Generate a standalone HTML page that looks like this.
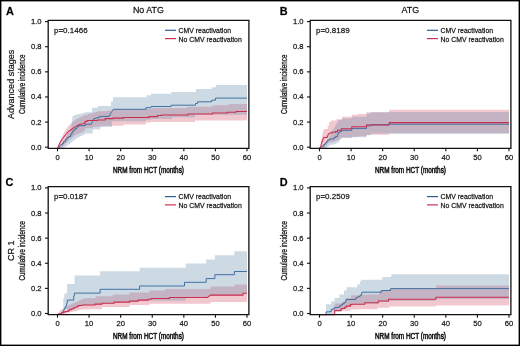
<!DOCTYPE html>
<html><head><meta charset="utf-8"><style>
html,body{margin:0;padding:0;background:#fff;}
body{width:520px;height:346px;overflow:hidden;}
svg{display:block;font-family:"Liberation Sans", sans-serif;will-change:transform;}
text{stroke:#000;stroke-width:0.3px;stroke-opacity:0.65;}
</style></head><body>
<svg width="520" height="346" viewBox="0 0 520 346">
<rect x="0" y="0" width="520" height="346" fill="#fff"/>
<path d="M57.60,148.00 L58.50,145.40 L61.10,139.10 L63.60,133.40 L66.20,128.90 L68.70,125.70 L71.90,122.50 L75.10,120.00 L78.90,118.10 L84.00,115.40 L90.90,113.50 L99.00,111.20 L107.00,111.20 L107.00,110.40 L112.00,110.40 L112.00,109.60 L145.90,109.60 L145.90,108.90 L152.00,108.90 L152.00,108.00 L187.00,108.00 L187.00,106.70 L212.50,106.70 L212.50,105.30 L228.40,105.30 L228.40,103.90 L247.00,103.90 L247.00,120.50 L195.00,120.50 L195.00,121.90 L151.00,121.90 L151.00,122.60 L145.90,122.60 L145.90,124.60 L123.50,124.60 L123.50,125.80 L100.40,125.80 L100.40,126.80 L92.70,126.80 L92.70,128.20 L85.00,128.20 L85.00,130.50 L81.40,132.70 L76.40,134.60 L72.50,137.20 L68.70,140.40 L64.90,144.20 L61.10,148.00 L57.60,148.00 Z" fill="rgb(212,72,98)" fill-opacity="0.3"/>
<path d="M58.50,148.00 L61.00,145.50 L63.60,140.40 L66.20,136.50 L68.70,132.70 L70.60,129.50 L71.60,126.00 L72.00,121.00 L72.50,116.80 L73.80,115.50 L77.60,114.30 L84.00,113.00 L84.50,113.00 L84.50,112.30 L92.10,112.30 L92.10,107.70 L97.90,107.70 L97.90,106.00 L111.00,106.00 L111.00,101.40 L113.00,101.40 L113.00,97.20 L146.60,97.20 L146.60,95.20 L151.00,95.20 L151.00,93.70 L171.20,93.70 L171.20,92.10 L196.00,92.10 L196.00,88.90 L211.70,88.90 L211.70,87.20 L216.00,87.20 L216.00,85.10 L247.00,85.10 L247.00,114.80 L195.00,114.80 L195.00,117.20 L172.00,117.20 L172.00,119.00 L151.00,119.00 L151.00,119.80 L145.90,119.80 L145.90,121.30 L112.00,121.30 L112.00,127.00 L100.40,127.00 L100.40,129.60 L92.70,129.60 L92.70,133.50 L85.00,133.50 L85.00,134.00 L82.70,135.30 L77.60,137.80 L72.50,141.60 L68.70,144.80 L63.60,148.00 L58.50,148.00 Z" fill="rgb(88,132,165)" fill-opacity="0.3"/>
<path d="M58.5,148 L60.5,144.8 H62.4 V143.5 H63.6 V141.6 H65.5 V139.7 H66.8 V137.8 H68.7 V136.5 H70.6 V134.6 H71.9 V132.1 H73.2 V130.2 H75.1 V128.3 H77 V126.6 H78.9 V125.7 H84 V125.4 H85.7 V124.2 H91.5 V123.9 L92.7,121 L93.8,118.7 H95.5 V118.1 H97.9 V117.2 H100.2 V116.4 H108.8 V115.8 H110 V114.6 L111.7,111.7 L113.4,109.3 H145.9 V107.7 H151 V106.5 H171.2 V105.2 H195.5 V103.5 H197.5 V101.8 H211.7 V100.2 H215.5 V98.1 H247" fill="none" stroke="#3a6ca1" stroke-width="0.95"/>
<path d="M57.6,148 L58.5,146.2 L59.8,142.9 L61.7,139.7 L63.6,137.2 L66.2,134 L68.7,131.4 L71.3,129.5 L73.8,127.6 L76.4,126.1 L78.9,124.8 L82.7,123.8 H84.5 V122.7 H85 V121.5 H87 V120.5 H97.5 V120 H105.2 V118.6 H112.9 V118.1 H123.5 V117.4 H148.8 V116.6 H157.5 V115.4 H161.8 V115 H188 V114 H212.5 V113 H227.3 V112.2 H236 V111.5 H247" fill="none" stroke="#cc2d4f" stroke-width="1.05"/>
<path d="M319.50,148.00 L320.60,146.60 L321.90,137.50 L323.80,129.00 L327.70,129.00 L327.70,125.80 L329.00,125.80 L329.00,121.90 L331.00,121.90 L331.00,120.60 L336.20,120.60 L336.20,119.30 L342.00,119.30 L342.00,116.70 L351.80,116.70 L351.80,114.70 L358.00,114.70 L358.00,114.10 L366.50,114.10 L366.50,112.30 L389.20,112.30 L389.20,109.70 L509.00,109.70 L509.00,133.10 L389.20,133.10 L389.20,134.80 L366.50,134.80 L366.50,136.20 L358.00,136.20 L358.00,136.80 L351.80,136.80 L351.80,137.50 L342.00,137.50 L338.80,139.60 L334.90,141.40 L328.40,142.70 L324.50,148.00 L319.50,148.00 Z" fill="rgb(212,72,98)" fill-opacity="0.3"/>
<path d="M319.50,148.20 L322.00,146.00 L326.00,142.00 L328.40,139.00 L332.30,131.00 L336.20,124.50 L337.50,121.90 L338.80,119.90 L342.00,119.90 L342.00,118.60 L351.80,118.60 L351.80,116.70 L366.50,116.70 L366.50,113.50 L371.00,113.50 L371.00,112.30 L389.20,112.30 L389.20,111.90 L509.00,111.90 L509.00,134.00 L389.20,134.00 L389.20,133.50 L371.00,133.50 L371.00,135.20 L366.50,135.20 L366.50,137.20 L351.80,137.20 L351.80,138.00 L342.00,138.00 L341.00,139.00 L338.80,142.20 L334.90,144.20 L331.00,144.80 L326.00,148.20 L319.50,148.20 Z" fill="rgb(88,132,165)" fill-opacity="0.3"/>
<path d="M319.5,148.2 L321.2,147.2 L322.5,146 H323.8 V144.6 H325 V143.4 H325.8 V142.5 H327 V141 H327.7 V140 H329.7 V139 H334 V137.6 H335.5 V136.6 H337.5 V135.2 H338 V133 H339 V132 H340.7 V131 H342 V130.3 H351.8 V128.4 H366.5 V125.8 H371 V124.7 H389.2 V124.2 H509" fill="none" stroke="#3a6ca1" stroke-width="0.95"/>
<path d="M319.5,148 L320.6,147 L321.6,142.7 L323.2,138.8 L323.8,137.5 H327.1 L328.4,134.2 L330.3,132.9 H331.6 V132.3 H335.5 V131.6 H337.5 V130.3 H341.4 V128.8 H351.8 V126.8 H366.5 V124.9 H389.2 V122.6 H509" fill="none" stroke="#cc2d4f" stroke-width="1.05"/>
<path d="M57.50,314.30 L59.20,311.80 L60.90,309.40 L63.00,309.40 L63.00,309.00 L64.90,309.00 L64.90,308.50 L68.10,305.80 L70.60,304.20 L73.80,303.00 L77.00,301.70 L80.30,300.10 L82.70,298.90 L85.00,298.20 L95.80,298.20 L95.80,296.20 L112.70,296.20 L112.70,294.60 L129.60,294.60 L129.60,292.60 L149.60,292.60 L149.60,290.50 L165.00,290.50 L165.00,289.00 L210.50,289.00 L210.50,286.60 L234.40,286.60 L234.40,284.50 L247.00,284.50 L247.00,302.00 L210.50,302.00 L210.50,303.80 L149.60,303.80 L149.60,304.90 L129.60,304.90 L129.60,306.90 L102.00,306.90 L102.00,309.20 L86.00,309.20 L80.30,309.80 L76.20,311.00 L72.20,311.80 L68.90,312.70 L65.70,313.50 L62.50,314.30 L57.50,314.30 Z" fill="rgb(212,72,98)" fill-opacity="0.3"/>
<path d="M57.50,314.30 L61.50,314.30 L62.50,313.00 L62.50,309.50 L63.30,309.50 L63.30,298.00 L64.30,298.00 L64.30,293.50 L67.00,293.50 L67.00,284.10 L74.50,284.10 L74.50,275.40 L100.10,275.40 L100.10,271.30 L139.60,271.30 L139.60,267.70 L185.60,267.70 L185.60,263.40 L206.20,263.40 L206.20,259.50 L214.90,259.50 L214.90,255.20 L234.40,255.20 L234.40,251.30 L247.00,251.30 L247.00,293.60 L243.00,293.60 L243.00,295.40 L210.60,295.40 L207.40,297.70 L185.60,297.70 L185.60,300.70 L138.00,300.70 L138.00,301.40 L129.60,301.40 L129.60,302.40 L114.20,302.40 L114.20,303.50 L102.00,303.50 L102.00,304.40 L95.00,304.40 L95.00,305.30 L81.90,305.30 L81.90,305.70 L78.60,305.70 L78.60,306.50 L77.00,306.50 L77.00,307.50 L74.60,307.50 L74.60,308.50 L73.00,308.50 L73.00,309.30 L71.40,309.30 L71.40,310.10 L69.30,310.10 L69.30,310.90 L68.10,310.90 L68.10,309.20 L65.50,309.20 L64.00,309.80 L62.50,311.00 L61.50,314.30 L57.50,314.30 Z" fill="rgb(88,132,165)" fill-opacity="0.3"/>
<path d="M57.5,314.3 H61.5 V313.5 L62.9,311.4 H63.7 V310.2 H64.1 V308.6 H64.9 V307.4 H65.7 V306.2 H66.5 V304.6 H66.9 V302.6 H67.3 V300.1 H73.7 V296 H74.3 V293.1 H100.1 V289.3 H139.6 V286 H184.5 V282.3 H206.2 V278.6 H214.9 V274.7 H234.4 V271.5 H247" fill="none" stroke="#3a6ca1" stroke-width="0.95"/>
<path d="M57.5,314.3 L59.2,313.9 L60.9,313.5 H61.5 V312.7 H63.5 V312.3 H65 V311.4 H68.1 V310.6 H69.3 V309.8 H71.4 V309 H73 V308.2 H74.6 V307.2 H77 V306.2 H78.6 V305.4 H81.9 V305 H95 V304.1 H102 V303.2 H114.2 V302.1 H129.6 V301.1 H138 V300.1 H148 V299.2 H151.2 V298.4 H169.4 V297.4 H207.4 L210.6,295.1 H243 V293.3 H247" fill="none" stroke="#cc2d4f" stroke-width="1.05"/>
<path d="M319.50,314.60 L333.90,314.60 L333.90,306.10 L334.70,306.10 L334.70,303.60 L341.70,303.60 L341.70,301.80 L345.60,301.80 L345.60,297.90 L351.10,297.90 L351.10,295.20 L361.20,295.20 L361.20,294.40 L379.00,294.40 L379.00,290.80 L382.40,290.80 L382.40,290.50 L389.20,290.50 L389.20,289.00 L435.90,289.00 L435.90,285.40 L509.00,285.40 L509.00,305.40 L435.90,305.40 L435.90,306.40 L389.20,306.40 L389.20,307.80 L377.70,307.80 L377.70,309.20 L358.60,309.20 L358.60,309.60 L350.30,309.60 L350.30,310.80 L341.70,310.80 L341.70,312.00 L334.70,312.00 L334.70,314.60 L319.50,314.60 Z" fill="rgb(212,72,98)" fill-opacity="0.3"/>
<path d="M319.50,314.30 L326.00,314.30 L326.00,304.30 L331.30,304.30 L331.30,301.30 L334.60,301.30 L334.60,297.90 L339.30,297.90 L339.30,294.60 L343.90,294.60 L343.90,290.60 L346.60,290.60 L346.60,287.30 L357.20,287.30 L357.20,284.60 L359.90,284.60 L359.90,281.30 L361.40,281.30 L361.40,279.70 L382.40,279.70 L382.40,277.00 L391.30,277.00 L391.30,274.20 L509.00,274.20 L509.00,299.10 L435.90,299.10 L435.90,300.80 L388.50,300.80 L388.50,302.00 L378.30,302.00 L378.30,303.70 L364.80,303.70 L364.80,304.50 L351.90,304.50 L351.90,304.90 L350.30,304.90 L350.30,306.40 L346.40,306.40 L346.40,307.60 L344.80,307.60 L344.80,308.70 L341.70,308.70 L341.70,309.60 L341.00,309.60 L341.00,310.80 L334.70,310.80 L334.70,314.60 L319.50,314.60 Z" fill="rgb(88,132,165)" fill-opacity="0.3"/>
<path d="M319.5,314.6 H326 V311.9 H330 V311.6 H331.2 V309.6 H333.1 V308.4 H334.7 V307.7 H337 V307.3 H339.4 V306.1 H340.9 V304.9 H342.5 V303.8 H344.1 V302.6 H345.6 V300.2 H346.8 V299.5 H355.8 V297.9 H357 V297 H358.5 V296.7 H360 V295.2 H361.5 V293.3 H362 V292.2 H381.7 V290.5 H390.6 V288.6 H509" fill="none" stroke="#3a6ca1" stroke-width="0.95"/>
<path d="M319.5,314.6 H334.7 V310.5 H341 V309.3 H341.7 V308.4 H344.8 V307.3 H346.4 V306.1 H350.3 V304.6 H351.9 V304.2 H364.8 V302.8 H378.3 V301 H388.5 V299.3 H435.9 V297.2 H509" fill="none" stroke="#cc2d4f" stroke-width="1.05"/>
<line x1="45.00" y1="147.20" x2="48.20" y2="147.20" stroke="#111" stroke-width="1.1"/>
<text x="41.60" y="149.70" font-size="7.6" text-anchor="end" fill="#222">0.0</text>
<line x1="45.00" y1="122.08" x2="48.20" y2="122.08" stroke="#111" stroke-width="1.1"/>
<text x="41.60" y="124.58" font-size="7.6" text-anchor="end" fill="#222">0.2</text>
<line x1="45.00" y1="96.96" x2="48.20" y2="96.96" stroke="#111" stroke-width="1.1"/>
<text x="41.60" y="99.46" font-size="7.6" text-anchor="end" fill="#222">0.4</text>
<line x1="45.00" y1="71.84" x2="48.20" y2="71.84" stroke="#111" stroke-width="1.1"/>
<text x="41.60" y="74.34" font-size="7.6" text-anchor="end" fill="#222">0.6</text>
<line x1="45.00" y1="46.72" x2="48.20" y2="46.72" stroke="#111" stroke-width="1.1"/>
<text x="41.60" y="49.22" font-size="7.6" text-anchor="end" fill="#222">0.8</text>
<line x1="45.00" y1="21.60" x2="48.20" y2="21.60" stroke="#111" stroke-width="1.1"/>
<text x="41.60" y="24.10" font-size="7.6" text-anchor="end" fill="#222">1.0</text>
<line x1="57.50" y1="148.35" x2="57.50" y2="151.35" stroke="#111" stroke-width="1.1"/>
<text x="57.50" y="159.70" font-size="7.6" text-anchor="middle" fill="#222">0</text>
<line x1="89.08" y1="148.35" x2="89.08" y2="151.35" stroke="#111" stroke-width="1.1"/>
<text x="89.08" y="159.70" font-size="7.6" text-anchor="middle" fill="#222">10</text>
<line x1="120.67" y1="148.35" x2="120.67" y2="151.35" stroke="#111" stroke-width="1.1"/>
<text x="120.67" y="159.70" font-size="7.6" text-anchor="middle" fill="#222">20</text>
<line x1="152.25" y1="148.35" x2="152.25" y2="151.35" stroke="#111" stroke-width="1.1"/>
<text x="152.25" y="159.70" font-size="7.6" text-anchor="middle" fill="#222">30</text>
<line x1="183.83" y1="148.35" x2="183.83" y2="151.35" stroke="#111" stroke-width="1.1"/>
<text x="183.83" y="159.70" font-size="7.6" text-anchor="middle" fill="#222">40</text>
<line x1="215.41" y1="148.35" x2="215.41" y2="151.35" stroke="#111" stroke-width="1.1"/>
<text x="215.41" y="159.70" font-size="7.6" text-anchor="middle" fill="#222">50</text>
<line x1="247.00" y1="148.35" x2="247.00" y2="151.35" stroke="#111" stroke-width="1.1"/>
<text x="247.00" y="159.70" font-size="7.6" text-anchor="middle" fill="#222">60</text>
<path d="M48.2,148.35 V20.35 H248.9 V148.35 Z" fill="none" stroke="#111" stroke-width="1.3"/>
<text x="148.50" y="172.70" font-size="8.5" text-anchor="middle" textLength="71" lengthAdjust="spacingAndGlyphs" fill="#1a1a1a" style="stroke-width:0.6px;stroke-opacity:0.8">NRM from HCT (months)</text>
<text transform="translate(25.00,84.35) rotate(-90)" x="0" y="0" font-size="8.6" text-anchor="middle" textLength="59.5" lengthAdjust="spacingAndGlyphs" fill="#1a1a1a" style="stroke-width:0.4px;stroke-opacity:0.7">Cumulative incidence</text>
<text transform="translate(14.00,84.35) rotate(-90)" x="0" y="0" font-size="9.05" text-anchor="middle" fill="#1a1a1a">Advanced stages</text>
<text x="6.0" y="14.5" font-size="10.9" font-weight="bold" fill="#000">A</text>
<text x="148.40" y="13.20" font-size="8.9" text-anchor="middle" fill="#111">No ATG</text>
<line x1="307.00" y1="147.20" x2="310.20" y2="147.20" stroke="#111" stroke-width="1.1"/>
<text x="303.60" y="149.70" font-size="7.6" text-anchor="end" fill="#222">0.0</text>
<line x1="307.00" y1="122.08" x2="310.20" y2="122.08" stroke="#111" stroke-width="1.1"/>
<text x="303.60" y="124.58" font-size="7.6" text-anchor="end" fill="#222">0.2</text>
<line x1="307.00" y1="96.96" x2="310.20" y2="96.96" stroke="#111" stroke-width="1.1"/>
<text x="303.60" y="99.46" font-size="7.6" text-anchor="end" fill="#222">0.4</text>
<line x1="307.00" y1="71.84" x2="310.20" y2="71.84" stroke="#111" stroke-width="1.1"/>
<text x="303.60" y="74.34" font-size="7.6" text-anchor="end" fill="#222">0.6</text>
<line x1="307.00" y1="46.72" x2="310.20" y2="46.72" stroke="#111" stroke-width="1.1"/>
<text x="303.60" y="49.22" font-size="7.6" text-anchor="end" fill="#222">0.8</text>
<line x1="307.00" y1="21.60" x2="310.20" y2="21.60" stroke="#111" stroke-width="1.1"/>
<text x="303.60" y="24.10" font-size="7.6" text-anchor="end" fill="#222">1.0</text>
<line x1="319.50" y1="148.35" x2="319.50" y2="151.35" stroke="#111" stroke-width="1.1"/>
<text x="319.50" y="159.70" font-size="7.6" text-anchor="middle" fill="#222">0</text>
<line x1="351.08" y1="148.35" x2="351.08" y2="151.35" stroke="#111" stroke-width="1.1"/>
<text x="351.08" y="159.70" font-size="7.6" text-anchor="middle" fill="#222">10</text>
<line x1="382.67" y1="148.35" x2="382.67" y2="151.35" stroke="#111" stroke-width="1.1"/>
<text x="382.67" y="159.70" font-size="7.6" text-anchor="middle" fill="#222">20</text>
<line x1="414.25" y1="148.35" x2="414.25" y2="151.35" stroke="#111" stroke-width="1.1"/>
<text x="414.25" y="159.70" font-size="7.6" text-anchor="middle" fill="#222">30</text>
<line x1="445.83" y1="148.35" x2="445.83" y2="151.35" stroke="#111" stroke-width="1.1"/>
<text x="445.83" y="159.70" font-size="7.6" text-anchor="middle" fill="#222">40</text>
<line x1="477.41" y1="148.35" x2="477.41" y2="151.35" stroke="#111" stroke-width="1.1"/>
<text x="477.41" y="159.70" font-size="7.6" text-anchor="middle" fill="#222">50</text>
<line x1="509.00" y1="148.35" x2="509.00" y2="151.35" stroke="#111" stroke-width="1.1"/>
<text x="509.00" y="159.70" font-size="7.6" text-anchor="middle" fill="#222">60</text>
<path d="M310.2,148.35 V20.35 H510.9 V148.35 Z" fill="none" stroke="#111" stroke-width="1.3"/>
<text x="410.50" y="172.70" font-size="8.5" text-anchor="middle" textLength="71" lengthAdjust="spacingAndGlyphs" fill="#1a1a1a" style="stroke-width:0.6px;stroke-opacity:0.8">NRM from HCT (months)</text>
<text transform="translate(287.00,84.35) rotate(-90)" x="0" y="0" font-size="8.6" text-anchor="middle" textLength="59.5" lengthAdjust="spacingAndGlyphs" fill="#1a1a1a" style="stroke-width:0.4px;stroke-opacity:0.7">Cumulative incidence</text>
<text x="279.8" y="14.6" font-size="10.9" font-weight="bold" fill="#000">B</text>
<text x="410.40" y="13.20" font-size="8.9" text-anchor="middle" fill="#111">ATG</text>
<line x1="45.00" y1="313.50" x2="48.20" y2="313.50" stroke="#111" stroke-width="1.1"/>
<text x="41.60" y="316.00" font-size="7.6" text-anchor="end" fill="#222">0.0</text>
<line x1="45.00" y1="288.38" x2="48.20" y2="288.38" stroke="#111" stroke-width="1.1"/>
<text x="41.60" y="290.88" font-size="7.6" text-anchor="end" fill="#222">0.2</text>
<line x1="45.00" y1="263.26" x2="48.20" y2="263.26" stroke="#111" stroke-width="1.1"/>
<text x="41.60" y="265.76" font-size="7.6" text-anchor="end" fill="#222">0.4</text>
<line x1="45.00" y1="238.14" x2="48.20" y2="238.14" stroke="#111" stroke-width="1.1"/>
<text x="41.60" y="240.64" font-size="7.6" text-anchor="end" fill="#222">0.6</text>
<line x1="45.00" y1="213.02" x2="48.20" y2="213.02" stroke="#111" stroke-width="1.1"/>
<text x="41.60" y="215.52" font-size="7.6" text-anchor="end" fill="#222">0.8</text>
<line x1="45.00" y1="187.90" x2="48.20" y2="187.90" stroke="#111" stroke-width="1.1"/>
<text x="41.60" y="190.40" font-size="7.6" text-anchor="end" fill="#222">1.0</text>
<line x1="57.50" y1="314.65" x2="57.50" y2="317.65" stroke="#111" stroke-width="1.1"/>
<text x="57.50" y="326.00" font-size="7.6" text-anchor="middle" fill="#222">0</text>
<line x1="89.08" y1="314.65" x2="89.08" y2="317.65" stroke="#111" stroke-width="1.1"/>
<text x="89.08" y="326.00" font-size="7.6" text-anchor="middle" fill="#222">10</text>
<line x1="120.67" y1="314.65" x2="120.67" y2="317.65" stroke="#111" stroke-width="1.1"/>
<text x="120.67" y="326.00" font-size="7.6" text-anchor="middle" fill="#222">20</text>
<line x1="152.25" y1="314.65" x2="152.25" y2="317.65" stroke="#111" stroke-width="1.1"/>
<text x="152.25" y="326.00" font-size="7.6" text-anchor="middle" fill="#222">30</text>
<line x1="183.83" y1="314.65" x2="183.83" y2="317.65" stroke="#111" stroke-width="1.1"/>
<text x="183.83" y="326.00" font-size="7.6" text-anchor="middle" fill="#222">40</text>
<line x1="215.41" y1="314.65" x2="215.41" y2="317.65" stroke="#111" stroke-width="1.1"/>
<text x="215.41" y="326.00" font-size="7.6" text-anchor="middle" fill="#222">50</text>
<line x1="247.00" y1="314.65" x2="247.00" y2="317.65" stroke="#111" stroke-width="1.1"/>
<text x="247.00" y="326.00" font-size="7.6" text-anchor="middle" fill="#222">60</text>
<path d="M48.2,314.65 V186.65 H248.9 V314.65 Z" fill="none" stroke="#111" stroke-width="1.3"/>
<text x="148.50" y="339.00" font-size="8.5" text-anchor="middle" textLength="71" lengthAdjust="spacingAndGlyphs" fill="#1a1a1a" style="stroke-width:0.6px;stroke-opacity:0.8">NRM from HCT (months)</text>
<text transform="translate(25.00,250.65) rotate(-90)" x="0" y="0" font-size="8.6" text-anchor="middle" textLength="59.5" lengthAdjust="spacingAndGlyphs" fill="#1a1a1a" style="stroke-width:0.4px;stroke-opacity:0.7">Cumulative incidence</text>
<text transform="translate(14.00,250.65) rotate(-90)" x="0" y="0" font-size="9.05" text-anchor="middle" fill="#1a1a1a">CR 1</text>
<text x="5.6" y="186.2" font-size="10.9" font-weight="bold" fill="#000">C</text>
<line x1="307.00" y1="313.50" x2="310.20" y2="313.50" stroke="#111" stroke-width="1.1"/>
<text x="303.60" y="316.00" font-size="7.6" text-anchor="end" fill="#222">0.0</text>
<line x1="307.00" y1="288.38" x2="310.20" y2="288.38" stroke="#111" stroke-width="1.1"/>
<text x="303.60" y="290.88" font-size="7.6" text-anchor="end" fill="#222">0.2</text>
<line x1="307.00" y1="263.26" x2="310.20" y2="263.26" stroke="#111" stroke-width="1.1"/>
<text x="303.60" y="265.76" font-size="7.6" text-anchor="end" fill="#222">0.4</text>
<line x1="307.00" y1="238.14" x2="310.20" y2="238.14" stroke="#111" stroke-width="1.1"/>
<text x="303.60" y="240.64" font-size="7.6" text-anchor="end" fill="#222">0.6</text>
<line x1="307.00" y1="213.02" x2="310.20" y2="213.02" stroke="#111" stroke-width="1.1"/>
<text x="303.60" y="215.52" font-size="7.6" text-anchor="end" fill="#222">0.8</text>
<line x1="307.00" y1="187.90" x2="310.20" y2="187.90" stroke="#111" stroke-width="1.1"/>
<text x="303.60" y="190.40" font-size="7.6" text-anchor="end" fill="#222">1.0</text>
<line x1="319.50" y1="314.65" x2="319.50" y2="317.65" stroke="#111" stroke-width="1.1"/>
<text x="319.50" y="326.00" font-size="7.6" text-anchor="middle" fill="#222">0</text>
<line x1="351.08" y1="314.65" x2="351.08" y2="317.65" stroke="#111" stroke-width="1.1"/>
<text x="351.08" y="326.00" font-size="7.6" text-anchor="middle" fill="#222">10</text>
<line x1="382.67" y1="314.65" x2="382.67" y2="317.65" stroke="#111" stroke-width="1.1"/>
<text x="382.67" y="326.00" font-size="7.6" text-anchor="middle" fill="#222">20</text>
<line x1="414.25" y1="314.65" x2="414.25" y2="317.65" stroke="#111" stroke-width="1.1"/>
<text x="414.25" y="326.00" font-size="7.6" text-anchor="middle" fill="#222">30</text>
<line x1="445.83" y1="314.65" x2="445.83" y2="317.65" stroke="#111" stroke-width="1.1"/>
<text x="445.83" y="326.00" font-size="7.6" text-anchor="middle" fill="#222">40</text>
<line x1="477.41" y1="314.65" x2="477.41" y2="317.65" stroke="#111" stroke-width="1.1"/>
<text x="477.41" y="326.00" font-size="7.6" text-anchor="middle" fill="#222">50</text>
<line x1="509.00" y1="314.65" x2="509.00" y2="317.65" stroke="#111" stroke-width="1.1"/>
<text x="509.00" y="326.00" font-size="7.6" text-anchor="middle" fill="#222">60</text>
<path d="M310.2,314.65 V186.65 H510.9 V314.65 Z" fill="none" stroke="#111" stroke-width="1.3"/>
<text x="410.50" y="339.00" font-size="8.5" text-anchor="middle" textLength="71" lengthAdjust="spacingAndGlyphs" fill="#1a1a1a" style="stroke-width:0.6px;stroke-opacity:0.8">NRM from HCT (months)</text>
<text transform="translate(287.00,250.65) rotate(-90)" x="0" y="0" font-size="8.6" text-anchor="middle" textLength="59.5" lengthAdjust="spacingAndGlyphs" fill="#1a1a1a" style="stroke-width:0.4px;stroke-opacity:0.7">Cumulative incidence</text>
<text x="279.8" y="186.4" font-size="10.9" font-weight="bold" fill="#000">D</text>
<text x="54.00" y="32.70" font-size="8" fill="#1a1a1a">p=0.1466</text>
<line x1="165" y1="30.3" x2="176" y2="30.3" stroke="#2b5c97" stroke-width="1.2"/>
<line x1="165" y1="38.6" x2="176" y2="38.6" stroke="#d0304f" stroke-width="1.2"/>
<text x="178.60" y="33.10" font-size="6.9" fill="#1a1a1a">CMV reactivation</text>
<text x="178.60" y="41.50" font-size="6.9" fill="#1a1a1a">No CMV reactivation</text>
<text x="316.00" y="32.70" font-size="8" fill="#1a1a1a">p=0.8189</text>
<line x1="427.0" y1="30.3" x2="438.0" y2="30.3" stroke="#2b5c97" stroke-width="1.2"/>
<line x1="427.0" y1="38.6" x2="438.0" y2="38.6" stroke="#d0304f" stroke-width="1.2"/>
<text x="440.60" y="33.10" font-size="6.9" fill="#1a1a1a">CMV reactivation</text>
<text x="440.60" y="41.50" font-size="6.9" fill="#1a1a1a">No CMV reactivation</text>
<text x="54.00" y="199.00" font-size="8" fill="#1a1a1a">p=0.0187</text>
<line x1="165" y1="196.60000000000002" x2="176" y2="196.60000000000002" stroke="#2b5c97" stroke-width="1.2"/>
<line x1="165" y1="204.9" x2="176" y2="204.9" stroke="#d0304f" stroke-width="1.2"/>
<text x="178.60" y="199.40" font-size="6.9" fill="#1a1a1a">CMV reactivation</text>
<text x="178.60" y="207.80" font-size="6.9" fill="#1a1a1a">No CMV reactivation</text>
<text x="316.00" y="199.00" font-size="8" fill="#1a1a1a">p=0.2509</text>
<line x1="427.0" y1="196.60000000000002" x2="438.0" y2="196.60000000000002" stroke="#2b5c97" stroke-width="1.2"/>
<line x1="427.0" y1="204.9" x2="438.0" y2="204.9" stroke="#d0304f" stroke-width="1.2"/>
<text x="440.60" y="199.40" font-size="6.9" fill="#1a1a1a">CMV reactivation</text>
<text x="440.60" y="207.80" font-size="6.9" fill="#1a1a1a">No CMV reactivation</text>
<rect x="0.7" y="0.7" width="518.6" height="344.6" fill="none" stroke="#000" stroke-width="1.4"/>
</svg>
</body></html>
